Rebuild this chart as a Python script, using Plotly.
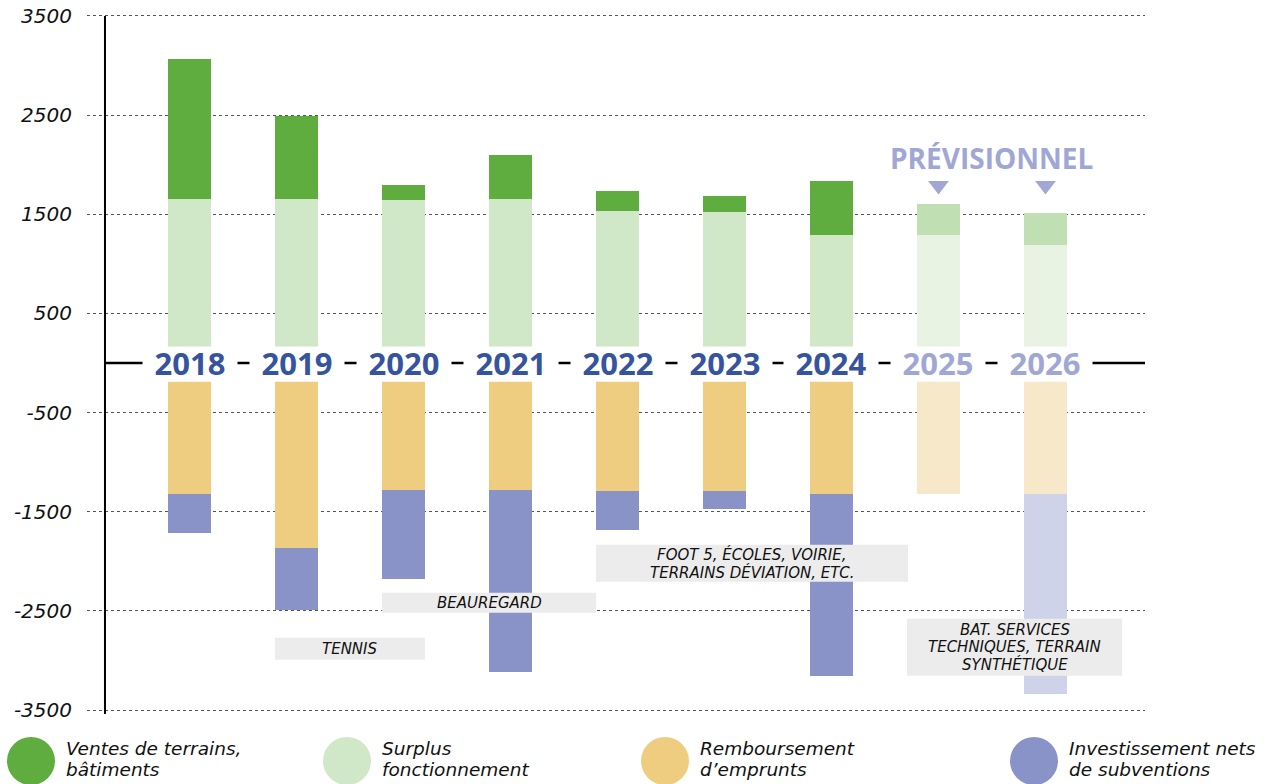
import plotly.graph_objects as go

# ---------------- data ----------------
years = ["2018", "2019", "2020", "2021", "2022", "2023", "2024", "2025", "2026"]
is_forecast = [False, False, False, False, False, False, False, True, True]
surplus = [1650, 1650, 1640, 1650, 1530, 1520, 1290, 1290, 1190]
ventes = [1420, 840, 160, 450, 200, 160, 550, 310, 320]
remboursement = [-1320, -1870, -1280, -1280, -1290, -1290, -1320, -1320, -1320]
investissement = [-390, -620, -900, -1840, -390, -180, -1840, None, -2020]
tick_values = [3500, 2500, 1500, 500, -500, -1500, -2500, -3500]
tick_labels = ["3500", "2500", "1500", "500", "-500", "-1500", "-2500", "-3500"]
legend_labels = [["Ventes de terrains,", "bâtiments"], ["Surplus", "fonctionnement"],
                 ["Remboursement", "d’emprunts"], ["Investissement nets", "de subventions"]]
notes = [["TENNIS"], ["BEAUREGARD"], ["FOOT 5, ÉCOLES, VOIRIE,", "TERRAINS DÉVIATION, ETC."],
         ["BAT. SERVICES", "TECHNIQUES, TERRAIN", "SYNTHÉTIQUE"]]
forecast_label = "PRÉVISIONNEL"

# ---------------- styles ----------------
C_VENTES, C_VENTES_F = "#5fad3e", "#c0dfb3"
C_SURPLUS, C_SURPLUS_F = "#d0e7c8", "#e8f3e4"
C_REMB, C_REMB_F = "#eecd80", "#f7e8c9"
C_INV, C_INV_F = "#8a93c8", "#ced3e9"
C_YEAR, C_YEAR_F = "#3653a0", "#a0a7d5"
FONT_B = "Open Sans"
FONT_I = "DejaVu Sans"

x = list(range(len(years)))


def cols(c, cf):
    return [cf if f else c for f in is_forecast]


W = 1285
H = 784
ML, MR, MT, MB = 87, 140, 12, 70
Y0, Y1 = -3540, 3540
PX_PER_UNIT = (H - MT - MB) / (Y1 - Y0)


def px_x(p):  # pixel -> paper x
    return (p - ML) / (W - ML - MR)


def px_y(p):  # pixel -> paper y
    return (H - MB - p) / (H - MT - MB)


fig = go.Figure()
fig.add_bar(x=x, y=surplus, marker=dict(color=cols(C_SURPLUS, C_SURPLUS_F), line_width=0),
            width=0.4, name="Surplus", showlegend=False)
fig.add_bar(x=x, y=ventes, marker=dict(color=cols(C_VENTES, C_VENTES_F), line_width=0),
            width=0.4, name="Ventes", showlegend=False)
fig.add_bar(x=x, y=remboursement, marker=dict(color=cols(C_REMB, C_REMB_F), line_width=0),
            width=0.4, name="Remboursement", showlegend=False)
fig.add_bar(x=x, y=investissement, marker=dict(color=cols(C_INV, C_INV_F), line_width=0),
            width=0.4, name="Investissement", showlegend=False)

# forecast triangles
fx = [i for i, f in enumerate(is_forecast) if f]
fig.add_scatter(x=fx, y=[1790] * len(fx), mode="markers",
                marker=dict(symbol="triangle-down", size=18, color=C_YEAR_F, line_width=0),
                showlegend=False, hoverinfo="skip")

shapes = []
# white band around zero (gap for year labels)
shapes.append(dict(type="rect", xref="x", yref="y", x0=-0.6, x1=8.7, y0=-190, y1=150,
                   fillcolor="white", line_width=0, layer="above"))
# vertical axis line
shapes.append(dict(type="line", xref="x", yref="y", x0=-0.79, x1=-0.79, y0=-3560, y1=3500,
                   line=dict(color="black", width=2), layer="above"))
# zero line
shapes.append(dict(type="line", xref="x", yref="y", x0=-0.79, x1=8.93, y0=0, y1=0,
                   line=dict(color="black", width=2.5), layer="above"))

# grey note boxes
boxes = [(0.8, 2.2, -2771, -2993), (1.8, 3.8, -2318, -2519),
         (3.8, 6.715, -1834, -2207), (6.706, 8.716, -2580, -3154)]
for (x0, x1, y0, y1) in boxes:
    shapes.append(dict(type="rect", xref="x", yref="y", x0=x0, x1=x1, y0=y0, y1=y1,
                       fillcolor="#ececec", line_width=0, layer="above"))

annotations = []
LINE_PX = 17.5
for (x0, x1, y0, y1), lines in zip(boxes, notes):
    yc = (y0 + y1) / 2
    n = len(lines)
    for k, t in enumerate(lines):
        off = ((n - 1) / 2 - k) * LINE_PX / PX_PER_UNIT
        annotations.append(dict(x=(x0 + x1) / 2, y=yc + off, xref="x", yref="y", text=t,
                                showarrow=False, align="center", yanchor="middle",
                                font=dict(family=FONT_I, size=15, color="#111", style="italic")))

# year labels on the zero line
for i, yr in enumerate(years):
    annotations.append(dict(x=i, y=0, xref="x", yref="y", text="<b>%s</b>" % yr, showarrow=False,
                            bgcolor="white", width=94, height=32, borderpad=0,
                            xanchor="center", yanchor="middle",
                            font=dict(family=FONT_B, size=31,
                                      color=C_YEAR_F if is_forecast[i] else C_YEAR)))

annotations.append(dict(x=7.5, y=2066, xref="x", yref="y", text="<b>%s</b>" % forecast_label,
                        showarrow=False, font=dict(family=FONT_B, size=28, color=C_YEAR_F)))

# manual legend
leg_colors = [C_VENTES, C_SURPLUS, C_REMB, C_INV]
leg_cx = [31, 347, 665, 1034]
for c, cx, lines in zip(leg_colors, leg_cx, legend_labels):
    shapes.append(dict(type="circle", xref="paper", yref="paper",
                       x0=px_x(cx - 24), x1=px_x(cx + 24), y0=px_y(785), y1=px_y(737),
                       fillcolor=c, line_width=0, layer="above"))
    for k, t in enumerate(lines):
        annotations.append(dict(x=px_x(cx + 33), y=px_y(748.5 + 21 * k), xref="paper", yref="paper",
                                text=t, showarrow=False, xanchor="left", yanchor="middle",
                                align="left",
                                font=dict(family=FONT_I, size=18.5, color="#111", style="italic")))

fig.update_layout(
    width=W, height=H, autosize=False,
    margin=dict(l=ML, r=MR, t=MT, b=MB, pad=0, autoexpand=False),
    paper_bgcolor="white", plot_bgcolor="white",
    barmode="relative", bargap=0,
    shapes=shapes, annotations=annotations,
    xaxis=dict(range=[-0.958, 8.93], visible=False, fixedrange=True),
    yaxis=dict(range=[Y0, Y1], tickvals=tick_values, ticktext=tick_labels, automargin=False,
               showgrid=True, gridcolor="#555", gridwidth=1, griddash="dot",
               zeroline=False, showline=False, ticks="", ticklabelstandoff=14,
               tickfont=dict(family=FONT_I, size=20, color="#111", style="italic")),
)

fig.write_html("out.html", config={"displayModeBar": False},
               post_script="document.body.style.margin='0';document.body.style.overflow='hidden';")
